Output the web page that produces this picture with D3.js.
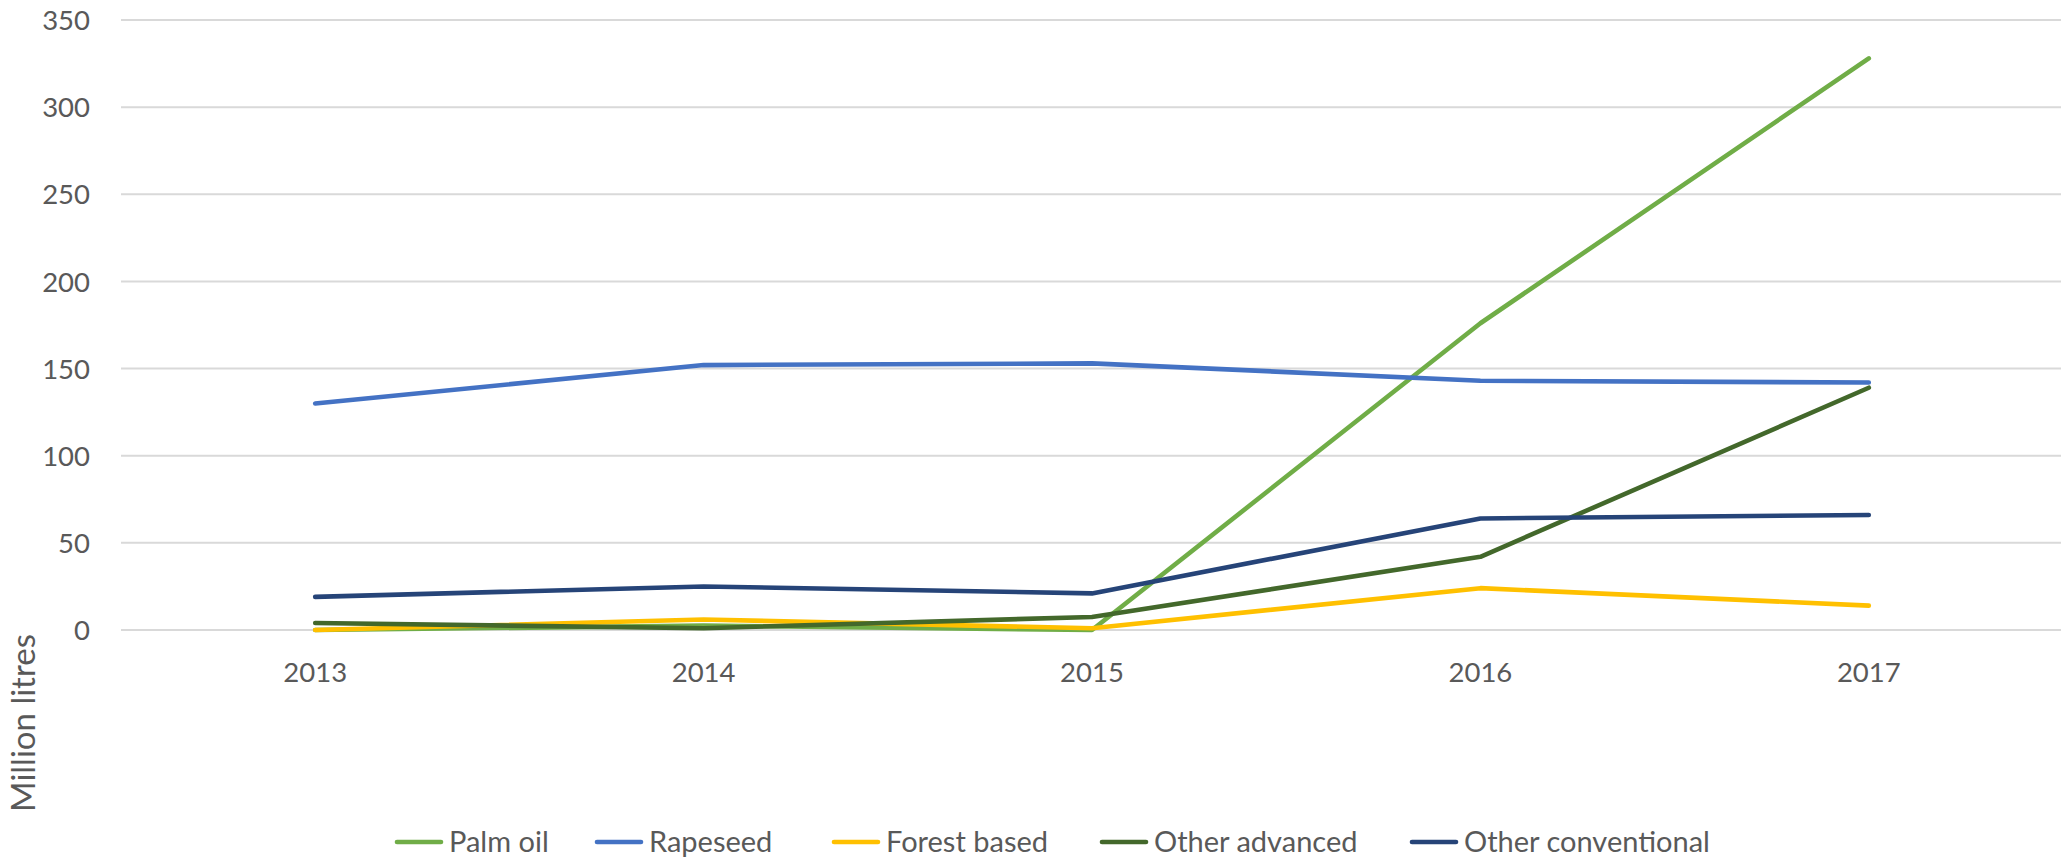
<!DOCTYPE html>
<html>
<head>
<meta charset="utf-8">
<script src="https://cdn.jsdelivr.net/npm/d3@7"></script>
<style>
  html, body { margin: 0; padding: 0; background: #fff; }
  svg text { font-family: Lato, "Open Sans", sans-serif; fill: #595959; }
</style>
</head>
<body>
<svg id="chart" width="2061" height="865"></svg>
<script>
const years = ["2013", "2014", "2015", "2016", "2017"];
const yTicks = [0, 50, 100, 150, 200, 250, 300, 350];
const seriesNames = ["Palm oil", "Rapeseed", "Forest based", "Other advanced", "Other conventional"];
const seriesColors = ["#70AD47", "#4472C4", "#FFC000", "#43682B", "#264478"];
const palmOil = [0, 2.5, 0, 176, 328];
const rapeseed = [130, 152, 153, 143, 142];
const forestBased = [0, 6, 1, 24, 14];
const otherAdvanced = [4, 1, 7.5, 42, 139];
const otherConventional = [19, 25, 21, 64, 66];
const seriesValues = [palmOil, rapeseed, forestBased, otherAdvanced, otherConventional];
const yTitle = "Million litres";

const svg = d3.select("#chart");
const plot = { left: 121, right: 2063, top: 20, bottom: 630 };

const x = d3.scaleBand().domain(years).range([plot.left, plot.right]).padding(0);
const y = d3.scaleLinear().domain([0, 350]).range([plot.bottom, plot.top]);

// gridlines
svg.append("g").selectAll("line").data(yTicks).join("line")
  .attr("x1", plot.left).attr("x2", plot.right)
  .attr("y1", d => y(d)).attr("y2", d => y(d))
  .attr("stroke", "#d9d9d9").attr("stroke-width", 2);

// y axis labels
const yAxis = d3.axisLeft(y).tickValues(yTicks).tickSize(0).tickPadding(0);
const gy = svg.append("g").attr("transform", `translate(90,0)`).call(yAxis);
gy.select(".domain").remove();
gy.selectAll("text").style("font-size", "27.5px").attr("dy", "0.35em")
  .style("font-family", "Lato, 'Open Sans', sans-serif").attr("fill", "#595959");

// x axis labels
const xAxis = d3.axisBottom(x).tickSize(0).tickPadding(0);
const gx = svg.append("g").attr("transform", `translate(0,662)`).call(xAxis);
gx.select(".domain").remove();
gx.selectAll("text").style("font-size", "27.5px").attr("dy", "0.71em")
  .style("font-family", "Lato, 'Open Sans', sans-serif").attr("fill", "#595959");

// lines
const line = d3.line()
  .x((d, i) => x(years[i]) + x.bandwidth() / 2)
  .y(d => y(d));

svg.append("g").selectAll("path").data(seriesValues).join("path")
  .attr("d", d => line(d))
  .attr("fill", "none")
  .attr("stroke", (d, i) => seriesColors[i])
  .attr("stroke-width", 4.6)
  .attr("stroke-linecap", "round")
  .attr("stroke-linejoin", "round");

// y title
svg.append("text")
  .attr("transform", "translate(35,723) rotate(-90)")
  .attr("text-anchor", "middle")
  .style("font-size", "33px")
  .text(yTitle);

// legend
const legendX = [394, 594, 831, 1099, 1409];
const legendY = 842;
const lg = svg.append("g").selectAll("g").data(seriesNames).join("g")
  .attr("transform", (d, i) => `translate(${legendX[i]},${legendY})`);
lg.append("line").attr("x1", 3).attr("x2", 47).attr("y1", 0).attr("y2", 0)
  .attr("stroke", (d, i) => seriesColors[i]).attr("stroke-width", 4.6)
  .attr("stroke-linecap", "round");
lg.append("text").attr("x", 55).attr("y", 0).attr("dy", "0.35em")
  .style("font-size", "29px").text(d => d);
</script>
</body>
</html>
